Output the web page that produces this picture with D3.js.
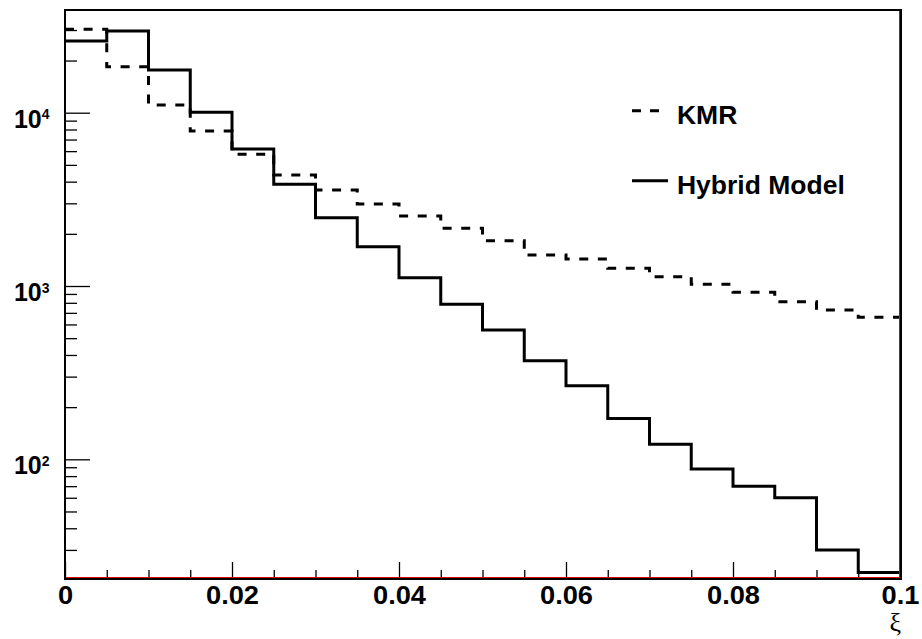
<!DOCTYPE html>
<html>
<head>
<meta charset="utf-8">
<script src="https://cdn.jsdelivr.net/npm/d3@7"></script>
<style>
    body { margin: 0; background: #fff; }
    svg { display: block; font-family: "Liberation Sans", Arial, sans-serif; }
</style>
</head>
<body>
<div id="chart"></div>
<script>
// Bin edges on the xi axis (20 bins of width 0.005).
const binEdges = [0, 0.005, 0.01, 0.015, 0.02, 0.025, 0.03, 0.035, 0.04, 0.045, 0.05,
    0.055, 0.06, 0.065, 0.07, 0.075, 0.08, 0.085, 0.09, 0.095, 0.1];

// Bin contents.
const kmr = [30290, 18430, 11080, 7843, 5754, 4371, 3581, 2972, 2535, 2153,
    1825, 1510, 1431, 1265, 1132, 1023, 919, 812, 727, 660];
const hybrid = [25930, 29600, 17640, 10050, 6173, 3863, 2477, 1686, 1117, 784,
    557, 371, 266, 172, 122, 88, 70, 60, 30, 22.2];

const xTicks = [0, 0.02, 0.04, 0.06, 0.08, 0.1];
const xTickLabels = ["0", "0.02", "0.04", "0.06", "0.08", "0.1"];
const yTicks = [100, 1000, 10000];
const yRange = [20.66, 39140];

const legendNames = ["KMR", "Hybrid Model"];

const width = 922;
const height = 639;
const frame = { left: 65, top: 10, right: 900, bottom: 578 };
const stretch = 1.09; // the original's bold face is a bit wider than Liberation Sans

const svg = d3.select("#chart").append("svg")
    .attr("width", width)
    .attr("height", height);

// Scales
const x = d3.scaleLinear()
    .domain([binEdges[0], binEdges[binEdges.length - 1]])
    .range([frame.left, frame.right]);

const y = d3.scaleLog()
    .domain(yRange)
    .range([frame.bottom, frame.top]);

// Minor ticks for the log axis: 2..9 times each decade, inside the range.
const yMinor = [];
[1, 10, 100, 1000, 10000].forEach(dec => {
    for (let k = 2; k <= 9; k++) {
        const v = k * dec;
        if (v > yRange[0] && v < yRange[1]) yMinor.push(v);
    }
});
const xMinor = d3.range(0, 20).map(i => binEdges[i]).filter(v => !xTicks.includes(v));

// Minor ticks
svg.append("g")
    .attr("class", "x minor")
    .attr("transform", `translate(0, ${frame.bottom})`)
    .call(d3.axisBottom(x).tickValues(xMinor).tickSize(-8).tickFormat(""))
    .call(g => g.select(".domain").remove());

svg.append("g")
    .attr("class", "y minor")
    .attr("transform", `translate(${frame.left}, 0)`)
    .call(d3.axisLeft(y).tickValues(yMinor).tickSize(-12).tickFormat(""))
    .call(g => g.select(".domain").remove());

// Major ticks with labels
svg.append("g")
    .attr("class", "x axis")
    .attr("transform", `translate(0, ${frame.bottom})`)
    .call(d3.axisBottom(x).tickValues(xTicks).tickSize(-16).tickPadding(0)
        .tickFormat((d, i) => xTickLabels[i]))
    .call(g => g.select(".domain").remove())
    .call(g => g.selectAll("text")
        .attr("y", 26)
        .attr("dy", 0)
        .attr("fill", "#000")
        .attr("transform", `scale(${stretch}, 1)`)
        .style("font-size", "25px")
        .style("font-weight", "bold"));

const yAxis = svg.append("g")
    .attr("class", "y axis")
    .attr("transform", `translate(${frame.left}, 0)`)
    .call(d3.axisLeft(y).tickValues(yTicks).tickSize(-25).tickFormat(""))
    .call(g => g.select(".domain").remove());

// Labels 10^n with a raised exponent
yAxis.selectAll(".tick").each(function (d) {
    const t = d3.select(this).append("text")
        .attr("x", -15.5)
        .attr("y", 14.5)
        .attr("fill", "#000")
        .attr("text-anchor", "end")
        .style("font-weight", "bold")
        .style("font-size", "25px");
    t.append("tspan").text("10");
    t.append("tspan")
        .attr("dy", -8.5)
        .style("font-size", "14px")
        .text(Math.round(Math.log10(d)));
});

svg.selectAll(".tick line")
    .attr("stroke", "#000")
    .attr("stroke-width", 1.3);

// Histogram outlines as step lines over the bin edges
const step = d3.line()
    .x(d => x(d[0]))
    .y(d => y(d[1]))
    .curve(d3.curveStepAfter);

const toPoints = vals => binEdges.map((e, i) => [e, vals[Math.min(i, vals.length - 1)]]);

svg.append("path")
    .attr("d", step(toPoints(kmr)))
    .attr("fill", "none")
    .attr("stroke", "#000")
    .attr("stroke-width", 3)
    .attr("stroke-dasharray", "9,9.6");

svg.append("path")
    .attr("d", step(toPoints(hybrid)))
    .attr("fill", "none")
    .attr("stroke", "#000")
    .attr("stroke-width", 3);

// Frame: thin red inner line on the bottom and right, black border.
svg.append("line")
    .attr("x1", frame.left).attr("x2", frame.right - 1)
    .attr("y1", frame.bottom - 0.5).attr("y2", frame.bottom - 0.5)
    .attr("stroke", "#e00000").attr("stroke-width", 1);
svg.append("line")
    .attr("x1", frame.right - 0.5).attr("x2", frame.right - 0.5)
    .attr("y1", frame.top + 1).attr("y2", frame.bottom)
    .attr("stroke", "#e00000").attr("stroke-width", 1);
svg.append("rect")
    .attr("x", frame.left)
    .attr("y", frame.top)
    .attr("width", frame.right - frame.left + 1)
    .attr("height", frame.bottom - frame.top + 1)
    .attr("fill", "none")
    .attr("stroke", "#000")
    .attr("stroke-width", 2);

// Axis title
svg.append("text")
    .attr("x", 901)
    .attr("y", 631)
    .attr("text-anchor", "end")
    .style("font-family", "'Liberation Serif', 'DejaVu Serif', serif")
    .style("font-size", "26px")
    .text("ξ");

// Legend
const legend = svg.append("g").attr("class", "legend");
const legendRows = [
    { name: legendNames[0], dash: "9,9", len: 28, y: 110.7 },
    { name: legendNames[1], dash: null, len: 36, y: 180.7 }
];
legendRows.forEach(r => {
    legend.append("line")
        .attr("x1", 632).attr("x2", 632 + r.len)
        .attr("y1", r.y).attr("y2", r.y)
        .attr("stroke", "#000")
        .attr("stroke-width", 3)
        .attr("stroke-dasharray", r.dash);
    legend.append("text")
        .attr("x", 677 / 1.06)
        .attr("y", r.y + 13.6)
        .attr("transform", "scale(1.06, 1)")
        .style("font-weight", "bold")
        .style("font-size", "25px")
        .text(r.name);
});
</script>
</body>
</html>
